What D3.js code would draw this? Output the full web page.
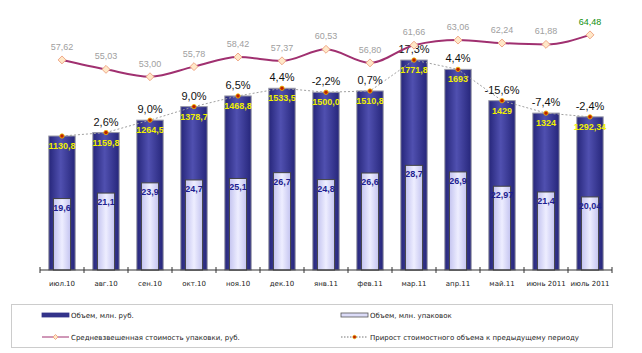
<!DOCTYPE html>
<html>
<head>
<meta charset="utf-8">
<script src="https://cdn.jsdelivr.net/npm/d3@7"></script>
<style>
  body { margin: 0; background: #fff; }
  svg { display: block; }
</style>
</head>
<body>
<div id="chart"></div>
<script>
//
// Volume / packs / avg price chart
//

const _months = ["июл.10", "авг.10", "сен.10", "окт.10", "ноя.10", "дек.10", "янв.11", "фев.11", "мар.11", "апр.11", "май.11", "июнь 2011", "июль 2011"];
const _volumeRub = ["1130,8", "1159,8", "1264,5", "1378,7", "1468,8", "1533,5", "1500,0", "1510,8", "1771,8", "1693", "1429", "1324", "1292,34"];
const _volumePacks = ["19,6", "21,1", "23,9", "24,7", "25,1", "26,7", "24,8", "26,6", "28,7", "26,9", "22,97", "21,4", "20,04"];
const _avgPrice = ["57,62", "55,03", "53,00", "55,78", "58,42", "57,37", "60,53", "56,80", "61,66", "63,06", "62,24", "61,88", "64,48"];
const _growth = [null, "2,6", "9,0", "9,0", "6,5", "4,4", "-2,2", "0,7", "17,3", "4,4", "-15,6", "-7,4", "-2,4"];

const _legendItems = [
    ["Объем, млн. руб.", "Объем, млн. упаковок"],
    ["Средневзвешенная стоимость упаковки, руб.", "Прирост стоимостного объема к предыдущему периоду"]
];

const _width = 642, _height = 353;
const _plotLeft = 40, _plotRight = 612, _plotTop = 33, _plotBottom = 270;

function num(s) { return +s.replace(",", "."); }

var svg = d3.select("#chart").append("svg")
    .attr("width", _width)
    .attr("height", _height);

var defs = svg.append("defs");
var gDark = defs.append("linearGradient").attr("id", "gDark").attr("x1", "0").attr("x2", "1").attr("y1", "0").attr("y2", "0");
gDark.append("stop").attr("offset", "0%").attr("stop-color", "#26267a");
gDark.append("stop").attr("offset", "45%").attr("stop-color", "#5050b0");
gDark.append("stop").attr("offset", "100%").attr("stop-color", "#26267a");
var gLight = defs.append("linearGradient").attr("id", "gLight").attr("x1", "0").attr("x2", "1").attr("y1", "0").attr("y2", "0");
gLight.append("stop").attr("offset", "0%").attr("stop-color", "#c4c4f0");
gLight.append("stop").attr("offset", "50%").attr("stop-color", "#eeeeff");
gLight.append("stop").attr("offset", "100%").attr("stop-color", "#c4c4f0");

var x = d3.scaleBand().domain(_months).range([_plotLeft, _plotRight]).padding(0);
var y = d3.scaleLinear().domain([0, 2000]).range([_plotBottom, _plotTop]);
var y2 = d3.scaleLinear().domain([0, 65]).range([_plotBottom, _plotTop]);

var bw = x.bandwidth();
var cx = d => x(d) + bw / 2;

// dark bars
svg.append("g").selectAll("rect")
    .data(_months)
    .join("rect")
    .attr("x", (d) => cx(d) - bw * 0.3)
    .attr("width", bw * 0.6)
    .attr("y", (d, i) => y(num(_volumeRub[i])))
    .attr("height", (d, i) => _plotBottom - y(num(_volumeRub[i])))
    .attr("fill", "url(#gDark)")
    .attr("stroke", "#9a9aa8")
    .attr("stroke-width", 1);

// light bars
svg.append("g").selectAll("rect")
    .data(_months)
    .join("rect")
    .attr("x", (d) => cx(d) - bw * 0.195)
    .attr("width", bw * 0.39)
    .attr("y", (d, i) => y2(num(_volumePacks[i])))
    .attr("height", (d, i) => _plotBottom - y2(num(_volumePacks[i])))
    .attr("fill", "url(#gLight)")
    .attr("stroke", "#444")
    .attr("stroke-width", 1);

// light bar labels
svg.append("g").selectAll("text")
    .data(_months)
    .join("text")
    .attr("x", d => cx(d))
    .attr("y", (d, i) => y2(num(_volumePacks[i])) + 12)
    .attr("text-anchor", "middle")
    .style("font-family", "Arial, 'Liberation Sans', sans-serif")
    .style("font-size", "9px")
    .style("font-weight", "bold")
    .attr("fill", "#1e1e90")
    .text((d, i) => _volumePacks[i]);

// growth dotted line (through bar tops)
var growthLine = d3.line()
    .x((d, i) => cx(_months[i]))
    .y(d => y(num(d)));

svg.append("path")
    .datum(_volumeRub)
    .attr("fill", "none")
    .attr("stroke", "#a0a0a0")
    .attr("stroke-width", 1)
    .attr("stroke-dasharray", "2,2")
    .attr("d", growthLine);

// dark bar labels
svg.append("g").selectAll("text")
    .data(_months)
    .join("text")
    .attr("x", d => cx(d))
    .attr("y", (d, i) => y(num(_volumeRub[i])) + 13)
    .attr("text-anchor", "middle")
    .style("font-family", "Arial, 'Liberation Sans', sans-serif")
    .style("font-size", "9px")
    .style("font-weight", "bold")
    .attr("fill", "#f0f000")
    .text((d, i) => _volumeRub[i]);

svg.append("g").selectAll("circle")
    .data(_volumeRub)
    .join("circle")
    .attr("cx", (d, i) => cx(_months[i]))
    .attr("cy", d => y(num(d)))
    .attr("r", 2.2)
    .attr("fill", "#c02000")
    .attr("stroke", "#f0c000")
    .attr("stroke-width", 0.8);

// growth labels (first month has none)
svg.append("g").selectAll("text")
    .data(_growth)
    .join("text")
    .attr("x", (d, i) => cx(_months[i]))
    .attr("y", (d, i) => y(num(_volumeRub[i])) - 7)
    .attr("text-anchor", "middle")
    .style("font-family", "Arial, 'Liberation Sans', sans-serif")
    .style("font-size", "11px")
    .attr("fill", "#111")
    .text(d => d === null ? "" : d + "%");

// avg price line
var priceLine = d3.line()
    .x((d, i) => cx(_months[i]))
    .y(d => y2(num(d)))
    .curve(d3.curveMonotoneX);

svg.append("path")
    .datum(_avgPrice)
    .attr("fill", "none")
    .attr("stroke", "#a03070")
    .attr("stroke-width", 2)
    .attr("d", priceLine);

var diamond = d3.symbol().type(d3.symbolDiamond2).size(40);
svg.append("g").selectAll("path")
    .data(_avgPrice)
    .join("path")
    .attr("transform", (d, i) => "translate(" + cx(_months[i]) + "," + y2(num(d)) + ")")
    .attr("d", diamond)
    .attr("fill", "#ffe8c8")
    .attr("stroke", "#f0a888")
    .attr("stroke-width", 1);

svg.append("g").selectAll("text")
    .data(_avgPrice)
    .join("text")
    .attr("x", (d, i) => cx(_months[i]))
    .attr("y", d => y2(num(d)) - 10)
    .attr("text-anchor", "middle")
    .style("font-family", "Arial, 'Liberation Sans', sans-serif")
    .style("font-size", "9px")
    .attr("fill", (d, i) => i == _avgPrice.length - 1 ? "#109010" : "#a0a0a0")
    .text(d => d);

// x axis
svg.append("line")
    .attr("x1", _plotLeft).attr("x2", _plotRight)
    .attr("y1", _plotBottom).attr("y2", _plotBottom)
    .attr("stroke", "#333");

var tickPos = _months.map(d => x(d)).concat([_plotRight]);
svg.append("g").selectAll("line")
    .data(tickPos)
    .join("line")
    .attr("x1", d => d).attr("x2", d => d)
    .attr("y1", _plotBottom - 3).attr("y2", _plotBottom + 3)
    .attr("stroke", "#333");

svg.append("g").selectAll("text")
    .data(_months)
    .join("text")
    .attr("x", d => cx(d))
    .attr("y", 286)
    .attr("text-anchor", "middle")
    .style("font-family", "'DejaVu Sans', Verdana, sans-serif")
    .style("font-size", "7px")
    .attr("fill", "#222")
    .text(d => d);

// legend
svg.append("rect")
    .attr("x", 11.5).attr("y", 304.5)
    .attr("width", 601).attr("height", 43)
    .attr("fill", "none")
    .attr("stroke", "#999")
    .attr("stroke-dasharray", "1,1");

var legCols = [42, 341];
var legRows = [315, 337];
_legendItems.forEach(function (row, r) {
    row.forEach(function (label, c) {
        var lx = legCols[c], ly = legRows[r];
        if (r == 0) {
            svg.append("rect")
                .attr("x", lx).attr("y", ly - 2)
                .attr("width", 27).attr("height", 4)
                .attr("fill", c == 0 ? "#33338a" : "#dcdcf8")
                .attr("stroke", c == 0 ? "#33338a" : "#555")
                .attr("stroke-width", 0.8);
        } else if (c == 0) {
            svg.append("line")
                .attr("x1", lx).attr("x2", lx + 27)
                .attr("y1", ly).attr("y2", ly)
                .attr("stroke", "#a03070").attr("stroke-width", 1);
            svg.append("path")
                .attr("transform", "translate(" + (lx + 13.5) + "," + ly + ")")
                .attr("d", d3.symbol().type(d3.symbolDiamond2).size(16))
                .attr("fill", "#ffe8c8").attr("stroke", "#f0a888");
        } else {
            svg.append("line")
                .attr("x1", lx).attr("x2", lx + 27)
                .attr("y1", ly).attr("y2", ly)
                .attr("stroke", "#777").attr("stroke-dasharray", "1.5,1.5");
            svg.append("circle")
                .attr("cx", lx + 13.5).attr("cy", ly).attr("r", 1.8)
                .attr("fill", "#c02000").attr("stroke", "#f0c000").attr("stroke-width", 0.6);
        }
        svg.append("text")
            .attr("x", lx + 29)
            .attr("y", ly + 2.5)
            .style("font-family", "'DejaVu Sans', Verdana, sans-serif")
            .style("font-size", "7px")
            .attr("fill", "#222")
            .text(label);
    });
});
</script>
</body>
</html>
